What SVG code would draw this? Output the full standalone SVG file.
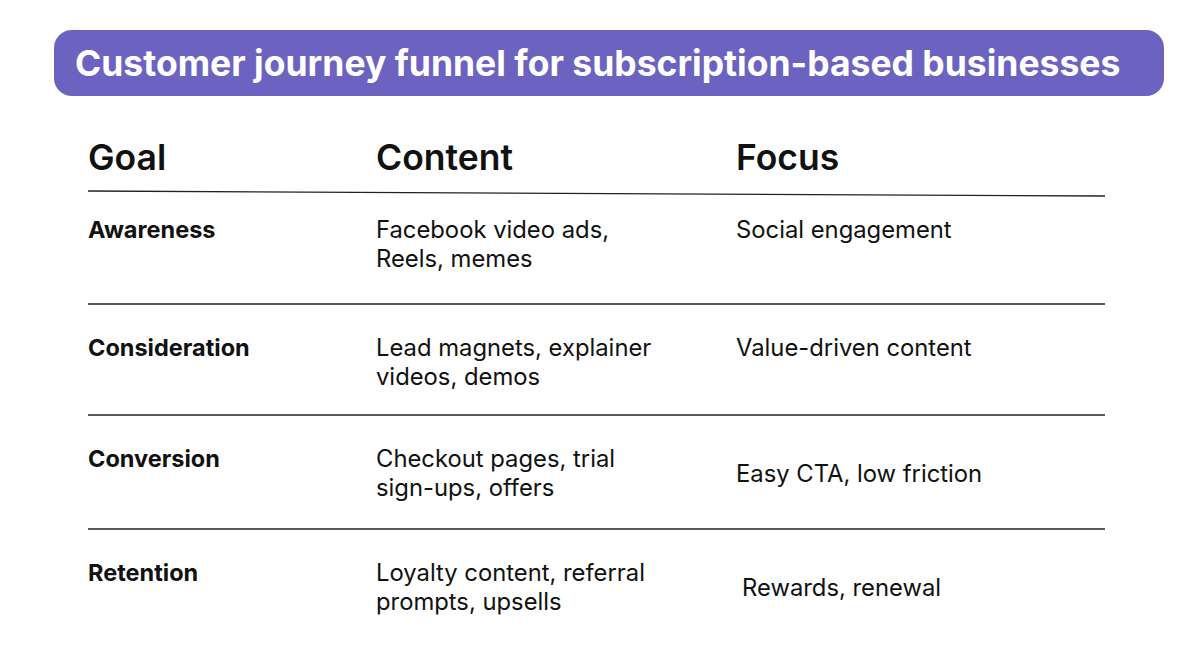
<svg xmlns="http://www.w3.org/2000/svg" width="1193" height="647" viewBox="0 0 1193 647">
<style>
text{font-family:Inter,"Liberation Sans",sans-serif;fill:#111}
.h{font-size:35.5px;font-weight:600}
.g{font-size:23.5px;font-weight:700}
.b{font-size:23.8px}
.l{stroke:#222;stroke-width:1.3}
</style>
<rect width="1193" height="647" fill="#fff"/>
<g id="title">
<rect x="54" y="30" width="1110" height="66" rx="18" fill="#6c63c0"/>
<text x="75" y="76" style="font-size:35.5px;font-weight:700;fill:#fff">Customer journey funnel for subscription-based businesses</text>
</g>
<g id="header">
<text class="h" x="88" y="170">Goal</text>
<text class="h" x="376" y="170">Content</text>
<text class="h" x="736" y="170">Focus</text>
<path class="l" d="M88 191 L1105 196" stroke-width="2"/>
</g>
<g id="lines">
<line class="l" x1="88" y1="304" x2="1105" y2="304"/>
<line class="l" x1="88" y1="415" x2="1105" y2="415"/>
<line class="l" x1="88" y1="529" x2="1105" y2="529"/>
</g>
<g id="awareness">
<text class="g" x="88" y="238">Awareness</text>
<text class="b" x="376" y="238">Facebook video ads,</text>
<text class="b" x="376" y="267">Reels, memes</text>
<text class="b" x="736" y="238">Social engagement</text>
</g>
<g id="consideration">
<text class="g" x="88" y="356">Consideration</text>
<text class="b" x="376" y="356">Lead magnets, explainer</text>
<text class="b" x="376" y="385">videos, demos</text>
<text class="b" x="736" y="356">Value-driven content</text>
</g>
<g id="conversion">
<text class="g" x="88" y="467">Conversion</text>
<text class="b" x="376" y="467">Checkout pages, trial</text>
<text class="b" x="376" y="496">sign-ups, offers</text>
<text class="b" x="736" y="482">Easy CTA, low friction</text>
</g>
<g id="retention">
<text class="g" x="88" y="581">Retention</text>
<text class="b" x="376" y="581">Loyalty content, referral</text>
<text class="b" x="376" y="610">prompts, upsells</text>
<text class="b" x="742" y="596">Rewards, renewal</text>
</g>
</svg>
